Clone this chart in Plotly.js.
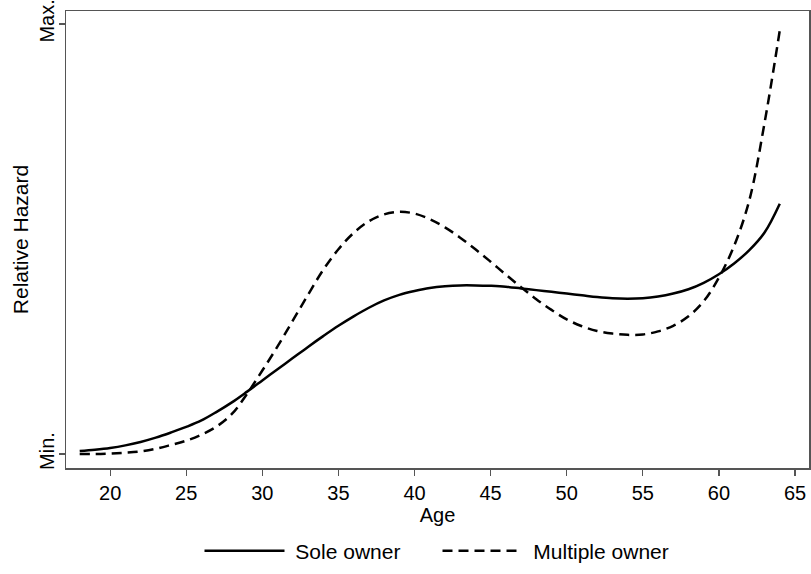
<!DOCTYPE html>
<html>
<head>
<meta charset="utf-8">
<script src="https://cdn.plot.ly/plotly-3.0.1.min.js"></script>
<style>html,body{margin:0;padding:0;background:#fff;}#chart{width:811px;height:574px;}</style>
</head>
<body>
<div id="chart"></div>
<script>
// Relative hazard by age (0 = Min., 1 = Max.)
const ages = [18, 19, 20, 21, 22, 23, 24, 25, 26, 27, 28, 29, 30, 31, 32, 33, 34, 35, 36, 37, 38, 39, 40, 41, 42, 43, 44, 45, 46, 47, 48, 49, 50, 51, 52, 53, 54, 55, 56, 57, 58, 59, 60, 61, 62, 63, 64];
const soleHazard = [0.007, 0.010, 0.014, 0.020, 0.028, 0.038, 0.050, 0.063, 0.078, 0.098, 0.120, 0.145, 0.171, 0.197, 0.223, 0.249, 0.274, 0.298, 0.320, 0.340, 0.357, 0.370, 0.379, 0.386, 0.390, 0.392, 0.392, 0.391, 0.389, 0.385, 0.381, 0.377, 0.373, 0.369, 0.365, 0.362, 0.361, 0.362, 0.366, 0.373, 0.383, 0.398, 0.418, 0.443, 0.474, 0.515, 0.582];
const multiHazard = [0.0, 0.0, 0.001, 0.003, 0.006, 0.012, 0.021, 0.031, 0.045, 0.064, 0.093, 0.140, 0.194, 0.250, 0.310, 0.370, 0.428, 0.476, 0.514, 0.541, 0.557, 0.563, 0.559, 0.546, 0.527, 0.503, 0.476, 0.447, 0.417, 0.388, 0.360, 0.335, 0.313, 0.297, 0.286, 0.280, 0.277, 0.278, 0.285, 0.298, 0.320, 0.355, 0.410, 0.484, 0.590, 0.770, 0.985];

const seriesNames = ["Sole owner", "Multiple owner"];
const xTicks = [20, 25, 30, 35, 40, 45, 50, 55, 60, 65];
const yTickVals = [0, 1];
const yTickText = ["Min.", "Max."];

const font = "Liberation Sans, Arial, Helvetica, sans-serif";

const traces = [
  {x: ages, y: soleHazard, name: "\u00a0" + seriesNames[0], mode: "lines",
   line: {color: "#000", width: 2.5, shape: "spline", smoothing: 1}},
  {x: ages, y: multiHazard, name: "\u00a0" + seriesNames[1], mode: "lines",
   line: {color: "#000", width: 2.5, dash: "10px,6px", shape: "spline", smoothing: 1}}
];

const layout = {
  width: 811, height: 574,
  margin: {l: 66, r: 2, t: 11, b: 106},
  paper_bgcolor: "#fff", plot_bgcolor: "#fff",
  font: {family: font, size: 20, color: "#000"},
  showlegend: true,
  legend: {orientation: "h", x: 0.5, xanchor: "center", y: -0.182, yanchor: "middle",
           itemwidth: 80, entrywidth: 143, font: {family: font, size: 21, color: "#000"}, traceorder: "normal"},
  xaxis: {
    range: [17.1, 65.92], tickvals: xTicks, ticks: "outside", ticklen: 6, tickwidth: 1.2,
    tickcolor: "#555", showline: true, mirror: true, linecolor: "#555", linewidth: 1.5,
    showgrid: false, zeroline: false, automargin: false,
    tickfont: {family: font, size: 20, color: "#000"},
    title: {text: "Age", font: {family: font, size: 20, color: "#000"}, standoff: 0}
  },
  yaxis: {
    range: [-0.0326, 1.030], tickvals: yTickVals, ticktext: yTickText, tickangle: -90,
    ticks: "outside", ticklen: 6, tickwidth: 1.2, tickcolor: "#555",
    showline: true, mirror: true, linecolor: "#555", linewidth: 1.5,
    showgrid: false, zeroline: false, automargin: false,
    ticklabeloverflow: "allow", ticklabelstandoff: -3,
    tickfont: {family: font, size: 20, color: "#000"},
    title: {text: "Relative Hazard", font: {family: font, size: 21, color: "#000"}, standoff: 1}
  }
};

Plotly.newPlot("chart", traces, layout, {displayModeBar: false, staticPlot: true});
</script>
</body>
</html>
